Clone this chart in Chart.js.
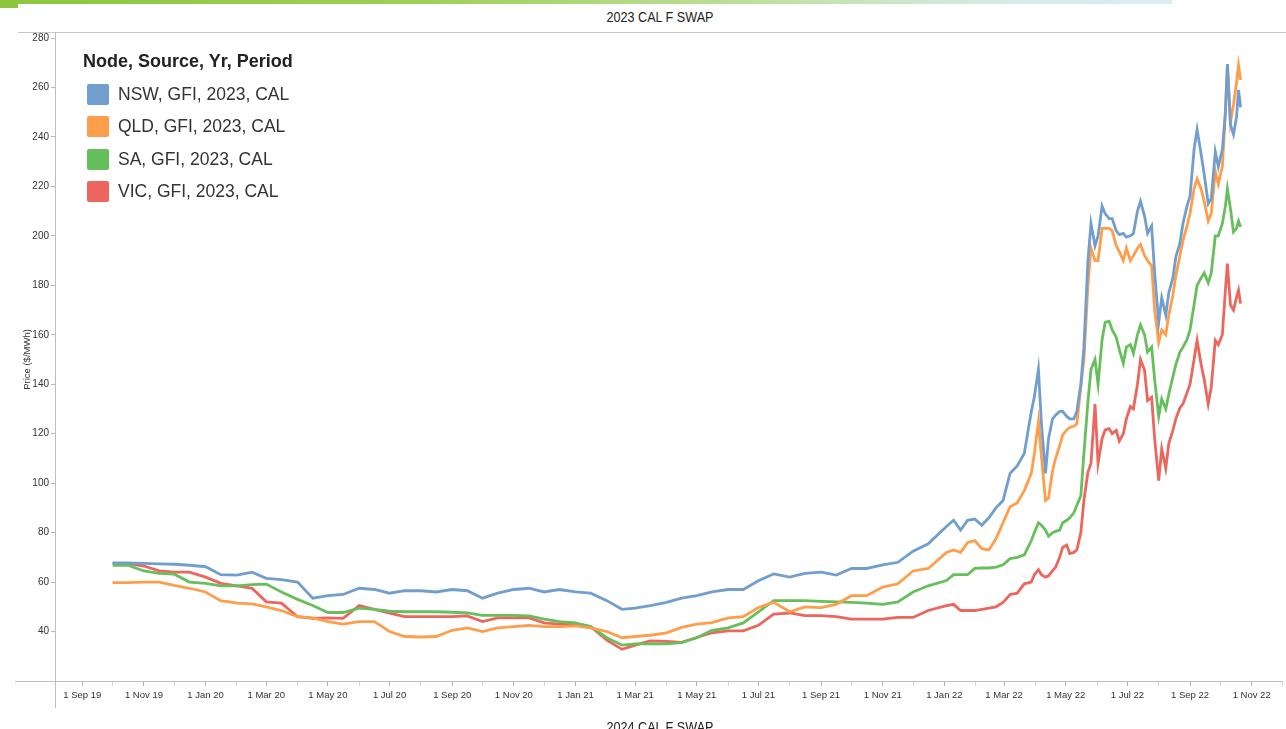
<!DOCTYPE html>
<html>
<head>
<meta charset="utf-8">
<title>2023 CAL F SWAP</title>
<script src="https://cdn.jsdelivr.net/npm/chart.js@4.4.1/dist/chart.umd.min.js"></script>
<style>
  html, body { margin: 0; padding: 0; background: #fff; }
  body { width: 1286px; height: 729px; position: relative; overflow: hidden; font-family: "Liberation Sans", Arial, sans-serif; }
  #topbar { position: absolute; left: 0; top: 0; width: 1172px; height: 4px;
    background: linear-gradient(to right, #8cc63f 0%, #9fcf55 35%, #bfe0a0 65%, #d4ebe6 85%, #dcedf2 100%); }
  #tab { position: absolute; left: 0; top: 4px; width: 18px; height: 4px; background: #8cc63f; }
  #title, #nextTitle { position: absolute; left: 0; width: 1320px; text-align: center;
    font: 14px "Liberation Sans", Arial, sans-serif; color: #222; transform: scaleX(0.9); transform-origin: 660px 0; }
  #title { top: 9px; }
  #nextTitle { top: 719px; }
  #rule { position: absolute; left: 18px; right: 0; top: 32px; border-top: 1px solid #c6c6c6; }
  #chart { position: absolute; left: 0; top: 0; }
  #legend { position: absolute; left: 83px; top: 51px; color: #333; }
  #legend .head { font: bold 18px "Liberation Sans", Arial, sans-serif; color: #222; margin-bottom: 6px; }
  #legend .item { display: flex; align-items: center; height: 32.5px; margin-left: 4px; font-size: 17.5px; }
  #legend .sw { width: 22px; height: 21px; border-radius: 2px; margin-right: 9px; box-sizing: border-box; }
</style>
</head>
<body>
<div id="topbar"></div>
<div id="tab"></div>
<div id="title">2023 CAL F SWAP</div>
<div id="rule"></div>
<canvas id="chart" width="1286" height="729"></canvas>
<div id="legend"></div>
<div id="nextTitle">2024 CAL F SWAP</div>
<script>
// trade dates: twice a month to end 2021, weekly to late March 2022, then twice a week
const dates = [
  "2019-10-01","2019-10-16","2019-11-01","2019-11-16","2019-12-01","2019-12-16",
  "2020-01-01","2020-01-16","2020-02-01","2020-02-16","2020-03-01","2020-03-16",
  "2020-04-01","2020-04-16","2020-05-01","2020-05-16","2020-06-01","2020-06-16",
  "2020-07-01","2020-07-16","2020-08-01","2020-08-16","2020-09-01","2020-09-16",
  "2020-10-01","2020-10-16","2020-11-01","2020-11-16","2020-12-01","2020-12-16",
  "2021-01-01","2021-01-16","2021-02-01","2021-02-16","2021-03-01","2021-03-16",
  "2021-04-01","2021-04-16","2021-05-01","2021-05-16","2021-06-01","2021-06-16",
  "2021-07-01","2021-07-16","2021-08-01","2021-08-16","2021-09-01","2021-09-16",
  "2021-10-01","2021-10-16","2021-11-01","2021-11-16","2021-12-01","2021-12-16",
  "2022-01-03","2022-01-10","2022-01-17","2022-01-24","2022-01-31","2022-02-07",
  "2022-02-14","2022-02-21","2022-02-28","2022-03-07","2022-03-14","2022-03-21",
  "2022-03-28","2022-03-31","2022-04-04","2022-04-07","2022-04-11","2022-04-14",
  "2022-04-18","2022-04-21","2022-04-25","2022-04-28",
  "2022-05-02","2022-05-05","2022-05-09","2022-05-12","2022-05-16","2022-05-19",
  "2022-05-23","2022-05-26","2022-05-30",
  "2022-06-02","2022-06-06","2022-06-09","2022-06-13","2022-06-16","2022-06-20",
  "2022-06-23","2022-06-27","2022-06-30",
  "2022-07-04","2022-07-07","2022-07-11","2022-07-14","2022-07-18","2022-07-21",
  "2022-07-25","2022-07-28",
  "2022-08-01","2022-08-04","2022-08-08","2022-08-11","2022-08-15","2022-08-18",
  "2022-08-22","2022-08-25","2022-08-29",
  "2022-09-01","2022-09-05","2022-09-08","2022-09-12","2022-09-15","2022-09-19",
  "2022-09-22","2022-09-26","2022-09-29",
  "2022-10-03","2022-10-06","2022-10-08","2022-10-11","2022-10-14","2022-10-17",
  "2022-10-19","2022-10-21"
];

const nswGfi = [
  67.8, 67.8, 67.6, 67.4, 67.2, 66.8,
  66.2, 63.0, 62.8, 64.0, 61.5, 61.0, 60.0, 53.5, 54.5, 55.0, 57.5, 57.0,
  55.5, 56.5, 56.5, 56.0, 57.0, 56.5, 53.5, 55.5, 57.0, 57.5, 56.0, 57.0,
  56.0, 55.5, 52.5, 49.0, 49.5, 50.5, 51.8, 53.5, 54.5, 56.0, 57.0, 57.0,
  60.5, 63.3, 62.0, 63.5, 64.0, 62.8, 65.5, 65.5, 67.0, 68.0, 72.5, 75.5,
  82.5, 85, 81, 85, 85.5, 83, 86, 90, 93, 104, 107, 112,
  129, 135, 146, 124, 104, 118, 126, 127.5, 129, 129,
  127, 126, 126, 129, 140, 155, 190, 205, 196,
  200, 212, 209, 207, 207, 202, 200.5, 201, 199.5,
  200, 201, 210, 214, 208, 201, 204, 185,
  165, 175, 168, 177, 183, 191.5, 197, 205, 212,
  216, 235, 243, 233, 225, 213, 215, 234, 228,
  235, 250, 269.5, 245, 241, 248, 259, 252
];

const qldGfi = [
  59.8, 59.8, 60.0, 60.0, 58.7, 57.5,
  56.0, 52.5, 51.5, 51.2, 50.0, 48.5, 46.0, 45.5, 44.0, 43.0, 44.0, 44.0,
  40.0, 38.0, 37.8, 38.0, 40.5, 41.5, 40.0, 41.5, 42.0, 42.5, 42.0, 42.0,
  42.3, 41.5, 40.0, 37.5, 38.0, 38.5, 39.5, 41.7, 43.0, 43.6, 45.5, 46.0,
  49.7, 51.8, 48.0, 50.0, 49.7, 51.0, 54.5, 54.5, 58.0, 59.3, 64.5, 65.5,
  72, 73, 72, 76, 76.8, 73.5, 73, 77.5, 84, 90.5, 92, 97,
  104, 112, 125, 110.5, 93, 94, 105, 110, 115, 119.5,
  121.5, 122.5, 123, 124, 139, 150, 180, 195, 190,
  190, 203, 203, 203, 202, 196, 193.6, 190, 195,
  190, 192, 195, 196.5, 192, 190, 188, 170,
  157, 162, 160, 168, 176, 184, 192, 198, 204,
  209, 219, 223, 219, 214, 206, 209, 226, 221,
  228, 250, 269.5, 246, 253, 262, 269, 263
];

const saGfi = [
  66.8, 66.8, 64.5, 63.5, 63.2, 60.0,
  59.5, 58.5, 58.5, 59.0, 59.2, 56.0, 53.0, 50.5, 47.7, 47.7, 49.5, 49.0,
  48.2, 48.0, 48.0, 48.0, 47.8, 47.5, 46.5, 46.5, 46.5, 46.3, 45.0, 44.0,
  43.5, 42.0, 37.5, 34.5, 35.0, 35.0, 35.0, 35.5, 37.5, 40.5, 41.5, 43.5,
  48.0, 52.5, 52.5, 52.5, 52.2, 52.0, 51.8, 51.5, 51.0, 52.0, 56.0, 58.5,
  60.6, 63, 63, 63, 65.5, 65.7, 65.7, 66, 67, 69.5, 70, 71,
  76.8, 80, 84, 83, 81, 78.5, 80, 80.5, 81, 84,
  85, 86, 88, 91, 95, 112, 133, 146, 150,
  140, 158, 165, 165.5, 162, 159, 154, 148.5, 155,
  156, 152.5, 160, 164, 160, 153, 155, 142,
  127, 134, 130, 136, 143, 148, 153, 155, 158,
  162, 172, 180, 183, 185, 181, 185, 200, 200,
  205, 212, 219, 211, 201.6, 203, 206, 203.6
];

const vicGfi = [
  67.6, 67.6, 66.5, 64.5, 64.0, 64.0,
  62.0, 59.5, 58.5, 57.5, 52.0, 51.5, 46.0, 45.3, 45.5, 45.3, 50.5, 49.0,
  47.4, 46.0, 46.0, 46.0, 46.0, 46.3, 44.0, 45.5, 45.5, 45.5, 43.5, 43.0,
  43.0, 42.0, 36.5, 32.8, 34.5, 36.2, 36.0, 35.6, 37.6, 39.5, 40.3, 40.3,
  42.5, 47.0, 47.5, 46.4, 46.4, 46.0, 45.0, 45.0, 45.0, 45.7, 45.7, 48.5,
  50.5, 51, 48.5, 48.5, 48.5, 49, 49.5, 50, 51.8, 55, 55.5, 59.3,
  60, 63, 65, 63, 62, 62.5, 64.6, 66, 70, 74,
  75, 71.5, 72, 73, 80, 93, 104.5, 108, 132,
  108, 118, 121.5, 122, 120, 121.3, 117, 120, 126,
  131, 130, 140, 150, 145.7, 133.4, 134.7, 118,
  101, 113.9, 106, 116, 121.3, 126, 130.5, 132, 136.5,
  140, 150, 157.7, 148, 142, 132, 138.8, 157.7, 156,
  160, 178, 188.8, 172, 170, 175, 178, 172.6
];

const seriesNames = ["NSW, GFI, 2023, CAL", "QLD, GFI, 2023, CAL", "SA, GFI, 2023, CAL", "VIC, GFI, 2023, CAL"];
const seriesColors = ["#729ece", "#ff9e4a", "#67bf5c", "#ed665d"];
const seriesValues = [nswGfi, qldGfi, saGfi, vicGfi];

const monthNames = ["Jan", "Feb", "Mar", "Apr", "May", "Jun", "Jul", "Aug", "Sep", "Oct", "Nov", "Dec"];
const axisStart = "2019-08-05";
const axisEnd = "2022-12-01";
const yTickValues = [40, 60, 80, 100, 120, 140, 160, 180, 200, 220, 240, 260, 280];

const baseMs = Date.UTC(2019, 8, 1);
const dayNum = s => (Date.parse(s + "T00:00:00Z") - baseMs) / 86400000;

// legend
const legendEl = document.getElementById("legend");
legendEl.innerHTML = '<div class="head">Node, Source, Yr, Period</div>' +
  seriesNames.map((n, i) =>
    `<div class="item"><span class="sw" style="background:${seriesColors[i]};border:1px solid ${seriesColors[i]}99"></span>${n}</div>`
  ).join("");

const axisExtras = {
  id: "axisExtras",
  afterDraw(chart) {
    const { ctx, chartArea } = chart;
    const x = Math.round(chartArea.left) + 0.5;
    const y = Math.round(chartArea.bottom) + 0.5;
    ctx.save();
    ctx.strokeStyle = "#bdbdbd";
    ctx.lineWidth = 1;
    ctx.beginPath();
    ctx.moveTo(15, y);
    ctx.lineTo(chartArea.left, y);
    ctx.moveTo(x, 32);
    ctx.lineTo(x, chartArea.top);
    ctx.moveTo(x, chartArea.bottom);
    ctx.lineTo(x, 708);
    ctx.stroke();
    ctx.restore();
  }
};

const tickFamily = '"Liberation Sans", Arial, sans-serif';

new Chart(document.getElementById("chart"), {
  type: "line",
  data: {
    datasets: seriesValues.map((vals, i) => ({
      label: seriesNames[i],
      data: vals.map((v, j) => ({ x: dayNum(dates[j]), y: v })),
      borderColor: seriesColors[i],
      backgroundColor: seriesColors[i],
      borderWidth: 2.8,
      pointRadius: 0,
      tension: 0
    }))
  },
  options: {
    responsive: false,
    animation: false,
    devicePixelRatio: 1,
    layout: { padding: { left: 18, top: 38, right: 0, bottom: 0 } },
    plugins: { legend: { display: false }, tooltip: { enabled: false } },
    scales: {
      x: {
        type: "linear",
        min: dayNum(axisStart),
        max: dayNum(axisEnd),
        afterFit: s => { s.height = 48; },
        afterBuildTicks: s => {
          const ticks = [];
          for (let yr = 2019; yr <= 2022; yr++) {
            for (let m = 0; m < 12; m++) {
              const d = (Date.UTC(yr, m, 1) - baseMs) / 86400000;
              if (d >= s.min && d <= s.max) ticks.push({ value: d, major: m % 2 === 0, label: `1 ${monthNames[m]} ${String(yr).slice(2)}` });
            }
          }
          s.ticks = ticks;
        },
        ticks: {
          autoSkip: false,
          maxRotation: 0,
          padding: 4,
          color: "#333",
          font: { family: tickFamily, size: 9.5 },
          callback: (v, i, ticks) => ticks[i].major ? ticks[i].label : ""
        },
        grid: {
          drawOnChartArea: false,
          tickLength: 5,
          tickColor: c => (c.tick && c.tick.major) ? "#b0b0b0" : "#d8d8d8"
        },
        border: { color: "#bdbdbd" }
      },
      y: {
        min: 20,
        max: 280,
        afterFit: s => { s.width = 37; },
        afterBuildTicks: s => { s.ticks = yTickValues.map(v => ({ value: v })); },
        title: {
          display: true,
          text: "Price ($/MWh)",
          color: "#333",
          font: { family: tickFamily, size: 9.5 },
          padding: { top: 4, bottom: 0 }
        },
        ticks: { color: "#333", font: { family: tickFamily, size: 10 }, padding: 2 },
        grid: { drawOnChartArea: false, tickLength: 4, tickColor: "#b8b8b8" },
        border: { color: "#bdbdbd" }
      }
    }
  },
  plugins: [axisExtras]
});
</script>
</body>
</html>
